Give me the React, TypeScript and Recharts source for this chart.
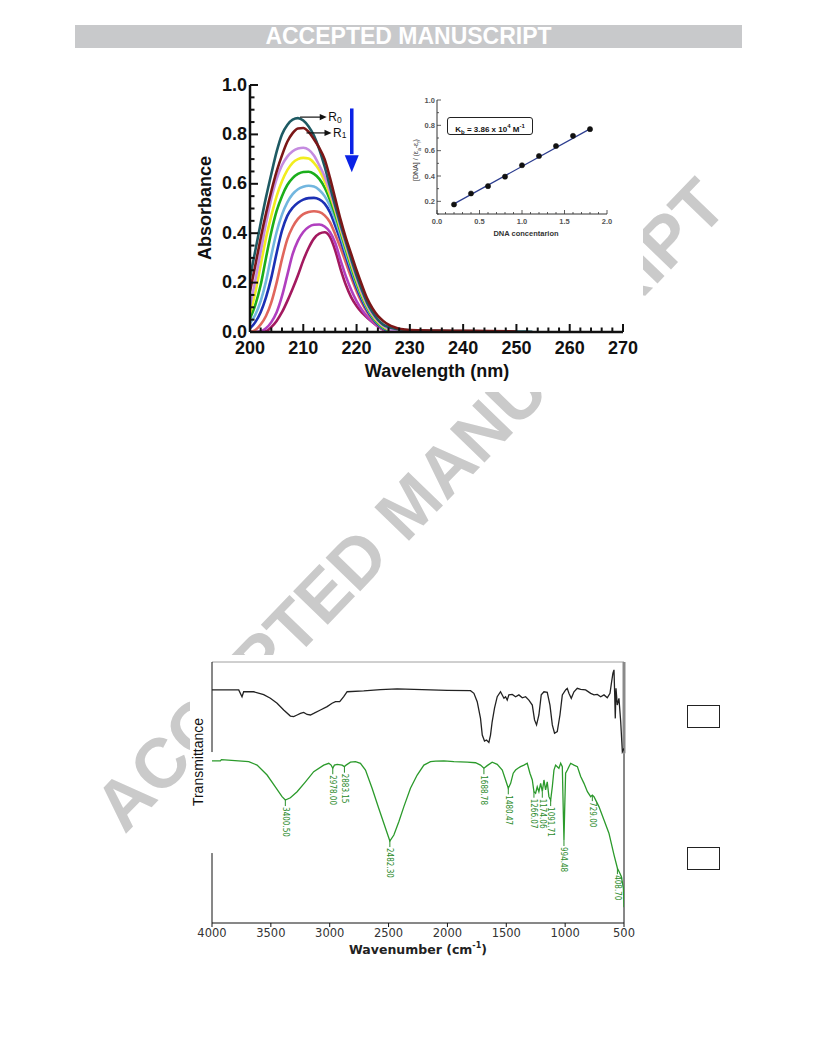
import React from 'react';
import { LineChart, ComposedChart, Line, XAxis, YAxis, ReferenceLine, ReferenceDot } from 'recharts';

// ---------- UV-Vis titration spectra (absorbance vs wavelength) ----------
const wavelengths = [
  200, 201, 202, 203, 204, 205, 206, 207, 208, 209, 210, 211, 212, 213, 214, 215, 216, 217, 218, 219,
  220, 221, 222, 223, 224, 225, 226, 227, 228, 229, 230, 232, 235, 240, 245, 250, 253,
];
const absR0 = [
  0.22, 0.33, 0.44, 0.545, 0.64, 0.73, 0.8, 0.838, 0.86, 0.866, 0.856, 0.832, 0.795, 0.74, 0.67, 0.59, 0.51, 0.435, 0.365, 0.295,
  0.228, 0.17, 0.118, 0.08, 0.05, 0.03, 0.02, 0.014, 0.01, 0.008, 0.007, 0.006, 0.005, 0.004, 0.003, 0.002, 0.001,
];
const absR1 = [
  0.165, 0.27, 0.38, 0.48, 0.57, 0.65, 0.715, 0.77, 0.805, 0.824, 0.826, 0.81, 0.78, 0.745, 0.7, 0.625, 0.54, 0.455, 0.38, 0.315,
  0.25, 0.19, 0.135, 0.095, 0.065, 0.045, 0.03, 0.02, 0.013, 0.01, 0.008, 0.007, 0.006, 0.005, 0.004, 0.002, null,
];
const absR2 = [
  0.105, 0.21, 0.325, 0.44, 0.54, 0.62, 0.675, 0.71, 0.732, 0.743, 0.746, 0.738, 0.715, 0.675, 0.63, 0.57, 0.5, 0.425, 0.355, 0.285,
  0.218, 0.16, 0.11, 0.072, 0.045, 0.025, 0.012, 0.005, 0, null, null, null, null, null, null, null, null,
];
const absR3 = [
  0.075, 0.16, 0.27, 0.38, 0.47, 0.55, 0.61, 0.655, 0.685, 0.7, 0.705, 0.702, 0.685, 0.655, 0.61, 0.555, 0.49, 0.415, 0.345, 0.275,
  0.21, 0.152, 0.105, 0.068, 0.041, 0.022, 0.01, 0.004, 0, null, null, null, null, null, null, null, null,
];
const absR4 = [
  0.055, 0.11, 0.19, 0.3, 0.405, 0.49, 0.55, 0.595, 0.623, 0.64, 0.648, 0.649, 0.64, 0.62, 0.585, 0.535, 0.475, 0.405, 0.335, 0.265,
  0.2, 0.145, 0.1, 0.063, 0.037, 0.019, 0.008, 0, null, null, null, null, null, null, null, null, null,
];
const absR5 = [
  0.035, 0.07, 0.125, 0.205, 0.31, 0.405, 0.475, 0.525, 0.558, 0.578, 0.588, 0.592, 0.589, 0.575, 0.55, 0.51, 0.455, 0.39, 0.32, 0.255,
  0.192, 0.14, 0.095, 0.06, 0.035, 0.017, 0.007, 0, null, null, null, null, null, null, null, null, null,
];
const absR6 = [
  0.015, 0.04, 0.08, 0.14, 0.22, 0.32, 0.41, 0.47, 0.503, 0.523, 0.536, 0.542, 0.543, 0.537, 0.52, 0.485, 0.43, 0.37, 0.305, 0.24,
  0.18, 0.13, 0.087, 0.055, 0.03, 0.014, 0.005, 0, null, null, null, null, null, null, null, null, null,
];
const absR7 = [
  0, 0.008, 0.03, 0.065, 0.12, 0.2, 0.295, 0.375, 0.425, 0.458, 0.477, 0.486, 0.489, 0.486, 0.472, 0.445, 0.395, 0.34, 0.28, 0.22,
  0.165, 0.118, 0.08, 0.05, 0.027, 0.012, 0.004, 0, null, null, null, null, null, null, null, null, null,
];
const absR8 = [
  0, 0, 0.003, 0.015, 0.04, 0.08, 0.145, 0.23, 0.315, 0.37, 0.405, 0.425, 0.434, 0.435, 0.427, 0.405, 0.36, 0.29, 0.225, 0.17,
  0.125, 0.09, 0.062, 0.04, 0.022, 0.01, 0.003, 0, null, null, null, null, null, null, null, null, null,
];
const absR9 = [
  0, 0, 0, 0.003, 0.02, 0.045, 0.08, 0.125, 0.175, 0.23, 0.29, 0.34, 0.378, 0.398, 0.404, 0.385, 0.33, 0.255, 0.19, 0.14,
  0.105, 0.078, 0.058, 0.04, 0.024, 0.01, 0, null, null, null, null, null, null, null, null, null, null,
];

// drawn back to front: R0 and R1 last so the tails along the axis show
const uvSeries = [
  { key: 'r9', values: absR9, color: '#a3195f' },
  { key: 'r8', values: absR8, color: '#b13fbf' },
  { key: 'r7', values: absR7, color: '#e0665c' },
  { key: 'r6', values: absR6, color: '#1c30b4' },
  { key: 'r5', values: absR5, color: '#72b6df' },
  { key: 'r4', values: absR4, color: '#1bae1b' },
  { key: 'r3', values: absR3, color: '#f2ed1e' },
  { key: 'r2', values: absR2, color: '#c58ce0' },
  { key: 'r0', values: absR0, color: '#1e5a63' },
  { key: 'r1', values: absR1, color: '#7b1717' },
];

const uvRows = wavelengths.map((w, i) => {
  const row: any = { w };
  uvSeries.forEach((s) => {
    row[s.key] = s.values[i];
  });
  return row;
});

const uvXTicks = [
  200, 202, 204, 206, 208, 210, 212, 214, 216, 218, 220, 222, 224, 226, 228, 230, 232, 234, 236, 238,
  240, 242, 244, 246, 248, 250, 252, 254, 256, 258, 260, 262, 264, 266, 268, 270,
];
const uvYTicks = [
  0, 0.05, 0.1, 0.15, 0.2, 0.25, 0.3, 0.35, 0.4, 0.45, 0.5, 0.55, 0.6, 0.65, 0.7, 0.75, 0.8, 0.85, 0.9, 0.95, 1.0,
];

// ---------- inset: binding plot ----------
const dnaConc = [0.2, 0.4, 0.6, 0.8, 1.0, 1.2, 1.4, 1.6, 1.8];
const dnaRatio = [0.175, 0.262, 0.32, 0.395, 0.485, 0.558, 0.637, 0.717, 0.77];
const fitConc = [0.2, 1.8];
const fitRatio = [0.18, 0.772];
const insetXTicks = [0, 0.1, 0.2, 0.3, 0.4, 0.5, 0.6, 0.7, 0.8, 0.9, 1.0, 1.1, 1.2, 1.3, 1.4, 1.5, 1.6, 1.7, 1.8, 1.9, 2.0];
const insetYTicks = [0.1, 0.2, 0.3, 0.4, 0.5, 0.6, 0.7, 0.8, 0.9, 1.0];

const dnaPts = dnaConc.map((x, i) => ({ x, y: dnaRatio[i] }));
const fitPts = fitConc.map((x, i) => ({ x, y: fitRatio[i] }));

// ---------- FT-IR spectra ----------
const blackWn = [
  4000, 3773, 3745, 3731, 3646, 3561, 3504, 3447, 3391, 3334, 3306, 3277, 3249, 3221, 3192, 3164, 3136, 3079, 3022, 2980,
  2951, 2915, 2881, 2852, 2711, 2569, 2427, 2285, 2002, 1804, 1775, 1747, 1719, 1704, 1685, 1668, 1648, 1634, 1620, 1600,
  1577, 1549, 1520, 1506, 1492, 1478, 1449, 1421, 1393, 1364, 1336, 1308, 1279, 1260, 1243, 1223, 1203, 1180, 1152, 1129,
  1109, 1090, 1067, 1044, 1024, 996, 982, 968, 948, 925, 897, 868, 826, 783, 755, 727, 698, 670, 642, 619,
  605, 594, 585, 579, 574, 568, 557, 543, 528, 514, 500,
];
const blackT = [
  89.3, 89.3, 86.7, 88.6, 88.6, 87.5, 86.1, 84.2, 81.6, 79.3, 79.1, 79.7, 80.3, 80.7, 79.9, 79.7, 80.3, 81.6, 82.9, 84.2,
  84.8, 84.8, 86.7, 88.6, 88.9, 89.4, 89.7, 89.5, 89.1, 89.0, 88.0, 84.8, 78.4, 72.0, 69.7, 70.1, 69.2, 72.0, 77.1, 82.3,
  86.7, 88.6, 86.1, 86.7, 85.4, 87.4, 87.6, 86.7, 87.4, 86.3, 86.7, 85.4, 83.5, 77.8, 75.9, 79.7, 87.4, 88.6, 88.4, 83.5,
  75.9, 72.7, 73.3, 79.7, 87.4, 89.3, 89.9, 88.0, 86.1, 88.6, 89.9, 89.5, 89.3, 88.0, 87.4, 87.6, 86.7, 87.4, 86.3, 88.0,
  92.5, 95.7, 97.0, 87.4, 78.4, 89.9, 83.5, 86.1, 77.1, 65.6, 66.9,
];
const greenWn = [
  4000, 3929, 3920, 3688, 3617, 3532, 3462, 3405, 3377, 3334, 3277, 3206, 3136, 3051, 3008, 2988, 2974, 2960, 2937, 2895,
  2875, 2861, 2824, 2781, 2739, 2696, 2640, 2583, 2526, 2489, 2455, 2413, 2370, 2314, 2257, 2200, 2144, 2100, 2030, 1945,
  1832, 1761, 1719, 1690, 1662, 1620, 1577, 1534, 1506, 1483, 1463, 1441, 1421, 1401, 1379, 1350, 1322, 1299, 1279, 1265,
  1251, 1237, 1223, 1208, 1194, 1180, 1166, 1152, 1138, 1123, 1109, 1095, 1081, 1067, 1053, 1038, 1024, 1016, 1010, 1004,
  996, 981, 968, 953, 925, 896, 868, 840, 811, 783, 769, 755, 713, 670, 628, 585, 556, 534, 522, 505,
  500,
];
const greenT = [
  62.1, 62.1, 62.6, 61.8, 60.5, 56.7, 52.2, 48.4, 47.1, 48.0, 50.3, 54.1, 58.0, 60.5, 61.2, 60.5, 59.3, 60.5, 60.8, 60.5,
  59.9, 60.5, 61.6, 61.8, 61.2, 58.6, 51.6, 43.9, 36.3, 31.4, 33.7, 38.8, 44.6, 51.6, 56.7, 60.5, 61.8, 62.0, 62.1, 61.8,
  61.6, 61.4, 60.5, 59.3, 60.3, 61.6, 60.8, 58.6, 54.8, 51.6, 53.5, 57.4, 58.6, 59.3, 59.9, 60.5, 61.2, 57.4, 54.8, 50.3,
  49.7, 52.2, 50.3, 53.5, 50.3, 54.8, 51.0, 54.1, 48.4, 47.1, 52.2, 58.6, 60.5, 59.9, 59.3, 61.2, 59.9, 43.3, 31.8, 43.3,
  57.4, 58.6, 59.9, 61.2, 60.5, 59.9, 56.1, 53.5, 50.3, 48.4, 49.0, 48.4, 44.6, 39.5, 34.4, 26.1, 21.0, 19.0, 17.7, 13.3,
  6.0,
];
const peakWn = [3377, 2974, 2875, 2489, 1690, 1483, 1265, 1194, 1123, 1010, 769, 556];
const peakT = [47.1, 59.3, 59.9, 31.4, 59.3, 51.6, 50.3, 50.3, 47.1, 31.8, 49.0, 21.0];
const peakText = [
  '3400.50', '2978.00', '2883.15', '2482.30', '1688.78', '1480.47', '1266.07', '1174.06', '1091.71', '994.48', '729.00', '408.70',
];
const irTicks = [4000, 3500, 3000, 2500, 2000, 1500, 1000, 500];

const blackPts = blackWn.map((x, i) => ({ x, y: blackT[i] }));
const greenPts = greenWn.map((x, i) => ({ x, y: greenT[i] }));

// ---------- tick renderers (inward ticks, labels only on majors) ----------
const INK = '#111';
const bold18 = { fontFamily: "'Liberation Sans', Arial, sans-serif", fontSize: 18, fontWeight: 700 };
const insetFont = { fontFamily: "'Liberation Sans', Arial, sans-serif", fontSize: 7.5, fontWeight: 700 };

const uvMajorX = (v: number) => v % 10 === 0;
const uvMajorY = (v: number) => Math.round(v * 100) % 20 === 0;

function UvBottomTick({ x, y, payload }: any) {
  const major = uvMajorX(payload.value);
  return (
    <g>
      <line x1={x} y1={y} x2={x} y2={y - (major ? 8 : 4.5)} stroke={INK} strokeWidth={2} />
      {major && (
        <text x={x} y={y + 22} textAnchor="middle" fill={INK} style={bold18}>
          {payload.value}
        </text>
      )}
    </g>
  );
}
function UvTopTick({ x, y, payload }: any) {
  const major = uvMajorX(payload.value);
  return <line x1={x} y1={y} x2={x} y2={y + (major ? 8 : 4.5)} stroke={INK} strokeWidth={2} />;
}
function UvLeftTick({ x, y, payload }: any) {
  const major = uvMajorY(payload.value);
  return (
    <g>
      <line x1={x} y1={y} x2={x + (major ? 8 : 4.5)} y2={y} stroke={INK} strokeWidth={2} />
      {major && (
        <text x={x - 3} y={y + 5.5} textAnchor="end" fill={INK} style={bold18}>
          {payload.value.toFixed(1)}
        </text>
      )}
    </g>
  );
}
function UvRightTick({ x, y, payload }: any) {
  const major = uvMajorY(payload.value);
  return <line x1={x} y1={y} x2={x - (major ? 8 : 4.5)} y2={y} stroke={INK} strokeWidth={2} />;
}

const inMajorX = (v: number) => Math.round(v * 10) % 5 === 0;
const inMajorY = (v: number) => Math.round(v * 10) % 2 === 0;

function InBottomTick({ x, y, payload }: any) {
  const major = inMajorX(payload.value);
  return (
    <g>
      <line x1={x} y1={y} x2={x} y2={y - (major ? 4 : 2)} stroke="#333" strokeWidth={0.8} />
      {major && (
        <text x={x} y={y + 10} textAnchor="middle" fill="#555" style={insetFont}>
          {payload.value.toFixed(1)}
        </text>
      )}
    </g>
  );
}
function InTopTick({ x, y, payload }: any) {
  const major = inMajorX(payload.value);
  return <line x1={x} y1={y} x2={x} y2={y + (major ? 4 : 2)} stroke="#333" strokeWidth={0.8} />;
}
function InLeftTick({ x, y, payload }: any) {
  const major = inMajorY(payload.value);
  return (
    <g>
      <line x1={x} y1={y} x2={x + (major ? 4 : 2)} y2={y} stroke="#333" strokeWidth={0.8} />
      {major && (
        <text x={x - 2} y={y + 2.7} textAnchor="end" fill="#555" style={insetFont}>
          {payload.value.toFixed(1)}
        </text>
      )}
    </g>
  );
}
function InRightTick({ x, y, payload }: any) {
  const major = inMajorY(payload.value);
  return <line x1={x} y1={y} x2={x - (major ? 4 : 2)} y2={y} stroke="#333" strokeWidth={0.8} />;
}

// arrow heads and peak tags
const BlueHead = (p: any) => (
  <polygon points={`${p.cx - 7},${p.cy} ${p.cx + 7},${p.cy} ${p.cx},${p.cy + 17}`} fill="#0a22e6" />
);
const rTag = (sub: string) => (p: any) => (
  <g>
    <polygon points={`${p.cx - 7},${p.cy - 3.2} ${p.cx - 7},${p.cy + 3.2} ${p.cx},${p.cy}`} fill={INK} />
    <text x={p.cx + 1.5} y={p.cy + 4} fontSize={12} fill={INK} fontFamily="'Liberation Sans', Arial, sans-serif">
      R
      <tspan fontSize={8.5} dy={1.5}>
        {sub}
      </tspan>
    </text>
  </g>
);
const peakTag = (label: string) => (p: any) => (
  <g>
    <line x1={p.cx} y1={p.cy} x2={p.cx} y2={p.cy + 6} stroke="#2a8f2a" strokeWidth={1} />
    <text
      transform={`translate(${p.cx},${p.cy + 7}) rotate(90)`}
      fontSize={8}
      fill="#2a8a2a"
      dominantBaseline="middle"
      fontFamily="'Liberation Sans Narrow', 'DejaVu Sans Condensed', sans-serif"
    >
      {label}
    </text>
  </g>
);

function Rot({ x, y, angle, style, children }: any) {
  return (
    <div
      style={{
        position: 'absolute',
        left: x,
        top: y,
        transform: `translate(-50%, -50%) rotate(${angle}deg)`,
        whiteSpace: 'nowrap',
        ...style,
      }}
    >
      {children}
    </div>
  );
}

export default function App() {
  const uvAxisLine = { stroke: INK, strokeWidth: 2.5 };
  const inAxisLine = { stroke: '#333', strokeWidth: 1 };
  return (
    <div
      style={{
        position: 'absolute',
        left: 0,
        top: 0,
        width: 816,
        height: 1056,
        overflow: 'hidden',
        background: '#fff',
        fontFamily: "'Liberation Sans', Arial, sans-serif",
      }}
    >
      {/* watermark, behind the figures */}
      <Rot x={410} y={505} angle={-46} style={{ fontSize: 70, fontWeight: 700, color: '#cacaca' }}>
        ACCEPTED MANUSCRIPT
      </Rot>

      {/* header bar */}
      <div
        style={{
          position: 'absolute',
          left: 75,
          top: 25,
          width: 667,
          height: 23,
          background: '#c8c9cb',
          color: '#fff',
          fontWeight: 700,
          fontSize: 23,
          lineHeight: '23px',
          textAlign: 'center',
        }}
      >
        ACCEPTED MANUSCRIPT
      </div>

      {/* UV-Vis figure */}
      <div style={{ position: 'absolute', left: 190, top: 70, width: 453, height: 322, background: '#fff' }}>
        <LineChart width={453} height={322} data={uvRows} margin={{ top: 15, right: 20, bottom: 0, left: 0 }}>
          <XAxis
            xAxisId="b"
            dataKey="w"
            type="number"
            domain={[200, 270]}
            ticks={uvXTicks}
            interval={0}
            height={60}
            tickSize={0}
            tickMargin={0}
            tickLine={false}
            axisLine={uvAxisLine}
            tick={(p: any) => <UvBottomTick {...p} />}
            allowDataOverflow
          />
          <XAxis
            xAxisId="t"
            orientation="top"
            type="number"
            domain={[200, 270]}
            ticks={uvXTicks}
            interval={0}
            height={0}
            tickSize={0}
            tickMargin={0}
            tickLine={false}
            axisLine={uvAxisLine}
            tick={(p: any) => <UvTopTick {...p} />}
            allowDataOverflow
          />
          <YAxis
            yAxisId="l"
            type="number"
            domain={[0, 1]}
            ticks={uvYTicks}
            interval={0}
            width={60}
            tickSize={0}
            tickMargin={0}
            tickLine={false}
            axisLine={uvAxisLine}
            tick={(p: any) => <UvLeftTick {...p} />}
            allowDataOverflow
          />
          <YAxis
            yAxisId="r"
            orientation="right"
            type="number"
            domain={[0, 1]}
            ticks={uvYTicks}
            interval={0}
            width={0}
            tickSize={0}
            tickMargin={0}
            tickLine={false}
            axisLine={uvAxisLine}
            tick={(p: any) => <UvRightTick {...p} />}
            allowDataOverflow
          />
          {uvSeries.map((s) => (
            <Line
              key={s.key}
              xAxisId="b"
              yAxisId="l"
              type="monotone"
              dataKey={s.key}
              stroke={s.color}
              strokeWidth={2.6}
              dot={false}
              isAnimationActive={false}
            />
          ))}
          <ReferenceLine
            xAxisId="b"
            yAxisId="l"
            segment={[{ x: 209.4, y: 0.87 }, { x: 213.5, y: 0.87 }]}
            stroke={INK}
            strokeWidth={1.2}
          />
          <ReferenceDot xAxisId="b" yAxisId="l" x={214.4} y={0.87} r={0} shape={rTag('0')} />
          <ReferenceLine
            xAxisId="b"
            yAxisId="l"
            segment={[{ x: 210.6, y: 0.806 }, { x: 214.4, y: 0.806 }]}
            stroke={INK}
            strokeWidth={1.2}
          />
          <ReferenceDot xAxisId="b" yAxisId="l" x={215.3} y={0.806} r={0} shape={rTag('1')} />
          <ReferenceLine
            xAxisId="b"
            yAxisId="l"
            segment={[{ x: 219.1, y: 0.905 }, { x: 219.1, y: 0.72 }]}
            stroke="#0a22e6"
            strokeWidth={3.5}
          />
          <ReferenceDot xAxisId="b" yAxisId="l" x={219.1} y={0.716} r={0} shape={BlueHead} />
        </LineChart>
      </div>

      {/* inset */}
      <div style={{ position: 'absolute', left: 400, top: 92 }}>
        <LineChart width={215} height={150} margin={{ top: 8, right: 8, bottom: 0, left: 0 }}>
          <XAxis
            xAxisId="b"
            dataKey="x"
            type="number"
            domain={[0, 2]}
            ticks={insetXTicks}
            interval={0}
            height={28}
            tickSize={0}
            tickMargin={0}
            tickLine={false}
            axisLine={inAxisLine}
            tick={(p: any) => <InBottomTick {...p} />}
            allowDataOverflow
          />
          <XAxis
            xAxisId="t"
            orientation="top"
            type="number"
            domain={[0, 2]}
            ticks={insetXTicks}
            interval={0}
            height={0}
            tickSize={0}
            tickMargin={0}
            tickLine={false}
            axisLine={inAxisLine}
            tick={(p: any) => <InTopTick {...p} />}
            allowDataOverflow
          />
          <YAxis
            yAxisId="l"
            type="number"
            domain={[0.1, 1]}
            ticks={insetYTicks}
            interval={0}
            width={37}
            tickSize={0}
            tickMargin={0}
            tickLine={false}
            axisLine={inAxisLine}
            tick={(p: any) => <InLeftTick {...p} />}
            allowDataOverflow
          />
          <YAxis
            yAxisId="r"
            orientation="right"
            type="number"
            domain={[0.1, 1]}
            ticks={insetYTicks}
            interval={0}
            width={0}
            tickSize={0}
            tickMargin={0}
            tickLine={false}
            axisLine={inAxisLine}
            tick={(p: any) => <InRightTick {...p} />}
            allowDataOverflow
          />
          <Line
            xAxisId="b"
            yAxisId="l"
            data={fitPts}
            dataKey="y"
            type="linear"
            stroke="#2c3d8f"
            strokeWidth={1.2}
            dot={false}
            isAnimationActive={false}
          />
          <Line
            xAxisId="b"
            yAxisId="l"
            data={dnaPts}
            dataKey="y"
            type="linear"
            stroke="none"
            dot={{ r: 2.6, fill: '#111', stroke: '#111', strokeWidth: 0.5 }}
            isAnimationActive={false}
          />
        </LineChart>
      </div>
      <div
        style={{
          position: 'absolute',
          left: 447,
          top: 117,
          width: 84,
          height: 16,
          border: '1.5px solid #222',
          borderRadius: 3,
          background: '#fff',
          fontSize: 8,
          fontWeight: 700,
          lineHeight: '16px',
          textAlign: 'center',
          color: '#111',
        }}
      >
        K<sub style={{ fontSize: 6 }}>b</sub> = 3.86 x 10<sup style={{ fontSize: 6 }}>4</sup> M<sup style={{ fontSize: 6 }}>-1</sup>
      </div>
      <Rot x={417} y={160} angle={-90} style={{ fontSize: 7, color: '#333' }}>
        [DNA] / (ε<sub style={{ fontSize: 5 }}>a</sub>-ε<sub style={{ fontSize: 5 }}>f</sub>)
      </Rot>
      <Rot x={526} y={233} angle={0} style={{ fontSize: 7.5, fontWeight: 700, color: '#333' }}>
        DNA concentarion
      </Rot>
      <Rot x={205} y={208} angle={-90} style={{ fontSize: 18, fontWeight: 700, color: INK }}>
        Absorbance
      </Rot>
      <Rot x={437} y={371} angle={0} style={{ fontSize: 18, fontWeight: 700, color: INK }}>
        Wavelength (nm)
      </Rot>

      {/* FT-IR figure */}
      <div
        style={{
          position: 'absolute',
          left: 190,
          top: 655,
          width: 452,
          height: 306,
          background: '#fff',
        }}
      >
        <ComposedChart width={452} height={301} margin={{ top: 7, right: 18, bottom: 0, left: 22 }}>
          <XAxis
            dataKey="x"
            type="number"
            domain={[500, 4000]}
            reversed
            ticks={irTicks}
            interval={0}
            height={33}
            tickSize={4}
            tickMargin={2}
            axisLine={{ stroke: '#111' }}
            tickLine={{ stroke: '#111' }}
            tick={{ fontSize: 11.5, fill: '#333', fontFamily: "'DejaVu Sans', sans-serif" }}
            allowDataOverflow
          />
          <YAxis type="number" domain={[0, 100]} hide allowDataOverflow />
          <ReferenceLine y={100} stroke="#a0a0a0" strokeWidth={1} />
          <ReferenceLine segment={[{ x: 4000, y: 100 }, { x: 4000, y: 65.5 }]} stroke="#111" strokeWidth={1} />
          <ReferenceLine segment={[{ x: 4000, y: 26.8 }, { x: 4000, y: 0 }]} stroke="#111" strokeWidth={1} />
          <ReferenceLine segment={[{ x: 500, y: 100 }, { x: 500, y: 65 }]} stroke="#8a8a8a" strokeWidth={3} />
          <ReferenceLine segment={[{ x: 500, y: 65 }, { x: 500, y: 0 }]} stroke="#111" strokeWidth={1} />
          <Line
            data={blackPts}
            dataKey="y"
            type="linear"
            stroke="#222"
            strokeWidth={1.3}
            dot={false}
            isAnimationActive={false}
          />
          <Line
            data={greenPts}
            dataKey="y"
            type="linear"
            stroke="#2b9a2b"
            strokeWidth={1.3}
            dot={false}
            isAnimationActive={false}
          />
          {peakWn.map((wn, i) => (
            <ReferenceDot key={wn} x={wn} y={peakT[i]} r={0} shape={peakTag(peakText[i])} />
          ))}
        </ComposedChart>
        <Rot x={7.5} y={107} angle={-90} style={{ fontSize: 14, color: '#111', fontFamily: "'Liberation Sans Narrow', 'Liberation Sans', sans-serif" }}>
          Transmittance
        </Rot>
        <Rot x={228} y={294} angle={0} style={{ fontSize: 12.5, fontWeight: 700, color: '#222', fontFamily: "'DejaVu Sans', sans-serif" }}>
          Wavenumber (cm<sup style={{ fontSize: 8 }}>-1</sup>)
        </Rot>
      </div>

      {/* empty boxes at the right margin */}
      <div style={{ position: 'absolute', left: 687, top: 705, width: 31, height: 21, border: '1px solid #222' }} />
      <div style={{ position: 'absolute', left: 687, top: 847, width: 31, height: 21, border: '1px solid #222' }} />
    </div>
  );
}
